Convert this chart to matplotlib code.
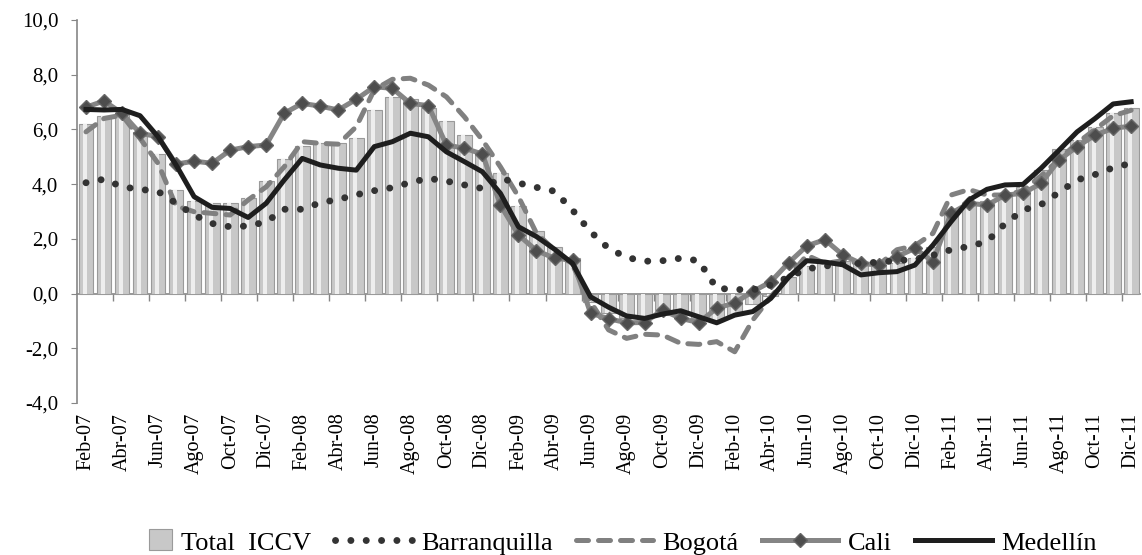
import matplotlib
matplotlib.use("Agg")
import matplotlib.pyplot as plt
import numpy as np
from matplotlib.ticker import FuncFormatter
from matplotlib.legend_handler import HandlerPatch
from matplotlib.patches import Rectangle

plt.rcParams["font.family"] = ["Liberation Serif", "DejaVu Serif"]

month_names = ["Ene", "Feb", "Mar", "Abr", "May", "Jun", "Jul", "Ago", "Sep", "Oct", "Nov", "Dic"]
months = []
for yr in range(7, 12):
    for mi, mn in enumerate(month_names):
        if yr == 7 and mi == 0:
            continue
        months.append(f"{mn}-{yr:02d}")

total_iccv = [6.2, 6.5, 6.6, 5.9, 5.1, 3.8, 3.4, 3.3, 3.3, 3.5,
              4.1, 4.9, 5.4, 5.5, 5.5, 5.7, 6.7, 7.2, 7.1, 6.8,
              6.3, 5.8, 5.2, 4.4, 3.2, 2.3, 1.7, 1.3, -0.3, -0.7,
              -0.9, -0.9, -0.8, -0.8, -0.9, -1.0, -0.8, -0.4, -0.1, 0.6,
              1.0, 1.2, 1.2, 1.1, 1.0, 1.1, 1.3, 1.7, 3.0, 3.3,
              3.4, 3.6, 3.9, 4.5, 5.3, 5.6, 6.1, 6.6, 6.8]

barranquilla = [4.05, 4.18, 3.90, 3.81, 3.73, 3.30, 2.87, 2.56, 2.44, 2.47,
                2.62, 3.08, 3.08, 3.32, 3.44, 3.61, 3.76, 3.87, 4.06, 4.21,
                4.11, 3.97, 3.84, 4.21, 4.04, 3.88, 3.74, 3.05, 2.26, 1.65,
                1.32, 1.18, 1.20, 1.29, 1.20, 0.19, 0.15, 0.13, 0.31, 0.6,
                0.9, 1.0, 1.1, 1.1, 1.15, 1.2, 1.25, 1.4, 1.6, 1.72,
                1.9, 2.55, 3.05, 3.25, 3.7, 4.15, 4.35, 4.6, 4.76]

bogota = [5.91, 6.40, 6.52, 5.67, 4.76, 3.20, 2.99, 2.93, 2.87, 3.42,
          3.90, 4.63, 5.55, 5.49, 5.46, 6.10, 7.45, 7.83, 7.87, 7.62,
          7.19, 6.46, 5.61, 4.63, 3.54, 2.20, 1.59, 1.04, -0.3, -1.33,
          -1.64, -1.49, -1.52, -1.82, -1.86, -1.76, -2.13, -0.97, -0.12, 0.61,
          1.4, 1.1, 1.2, 1.1, 1.05, 1.6, 1.75, 2.2, 3.6, 3.8,
          3.6, 3.6, 3.75, 4.3, 4.9, 5.5, 6.0, 6.5, 6.7]

cali = [6.81, 7.04, 6.59, 5.86, 5.73, 4.73, 4.84, 4.76, 5.24, 5.37,
        5.43, 6.59, 6.95, 6.85, 6.71, 7.10, 7.56, 7.50, 6.95, 6.87,
        5.43, 5.31, 5.10, 3.23, 2.14, 1.57, 1.29, 1.22, -0.72, -0.92,
        -1.07, -1.06, -0.60, -0.91, -1.06, -0.54, -0.34, 0.07, 0.43, 1.13,
        1.74, 1.97, 1.41, 1.10, 1.04, 1.35, 1.65, 1.16, 2.93, 3.30,
        3.23, 3.60, 3.66, 4.03, 4.88, 5.37, 5.79, 6.04, 6.12]

medellin = [6.73, 6.71, 6.73, 6.50, 5.73, 4.70, 3.54, 3.15, 3.11, 2.78,
            3.30, 4.15, 4.94, 4.70, 4.58, 4.51, 5.37, 5.55, 5.86, 5.73,
            5.18, 4.82, 4.45, 3.66, 2.44, 2.08, 1.62, 1.10, -0.12, -0.5,
            -0.82, -0.91, -0.75, -0.63, -0.85, -1.07, -0.79, -0.66, -0.18, 0.6,
            1.2, 1.15, 1.05, 0.68, 0.76, 0.80, 1.04, 1.77, 2.62, 3.42,
            3.81, 3.97, 3.99, 4.58, 5.24, 5.91, 6.40, 6.93, 7.01]

x = np.arange(len(months))

fig = plt.figure(figsize=(11.42, 5.55), dpi=100)
ax = fig.add_axes([0.0674, 0.274, 0.931, 0.690])

# bars with a lighter stripe to mimic the shaded columns
bars = ax.bar(x, total_iccv, width=0.82, color="#c8c8c8", edgecolor="#9a9a9a", linewidth=0.8,
              label="Total  ICCV", zorder=2)
ax.bar(x - 0.08, total_iccv, width=0.22, color="#eeeeee", linewidth=0, zorder=2)

l_baq, = ax.plot(x, barranquilla, color="#333333", lw=5.0, linestyle=(0, (0.01, 2.2)),
                 dash_capstyle="round", label="Barranquilla", zorder=4)
l_bog, = ax.plot(x, bogota, color="#808080", lw=3.6, linestyle=(0, (2.4, 2.0)),
                 dash_capstyle="round", label="Bogotá", zorder=3)
l_cal, = ax.plot(x, cali, color="#858585", lw=3.6, marker="D", markersize=7,
                 markerfacecolor="#4d4d4d", markeredgecolor="#666666", label="Cali", zorder=3)
l_med, = ax.plot(x, medellin, color="#1e1e1e", lw=3.6, label="Medellín", zorder=5)

ax.set_xlim(-0.5, len(months) - 0.5)
ax.set_ylim(-4, 10)
ax.set_yticks(np.arange(-4, 10.1, 2))
ax.yaxis.set_major_formatter(FuncFormatter(lambda v, p: f"{v:.1f}".replace(".", ",")))

ax.set_xticks(x[::2])
ax.set_xticklabels(months[::2], rotation=90)
ax.tick_params(axis="x", length=0, pad=7, labelsize=14.5)
ax.tick_params(axis="y", length=4.5, color="#868686", labelsize=15, direction="out", pad=9)

for s in ["top", "right", "bottom"]:
    ax.spines[s].set_visible(False)
ax.spines["left"].set_color("#868686")
ax.spines["left"].set_linewidth(1.2)

# zero line with boundary ticks
sec = ax.secondary_xaxis(4 / 14)
sec.spines["bottom"].set_color("#868686")
sec.spines["bottom"].set_linewidth(1.2)
sec.set_xticks(x[::2] + 1.5)
sec.set_xticklabels([])
sec.tick_params(length=5, color="#868686", width=1.0)


def small_patch(legend, orig_handle, xdescent, ydescent, width, height, fontsize):
    w = width * 0.3
    return Rectangle((width - w - xdescent, -ydescent), w, height * 1.1)


bar_handle = bars.patches[0]
leg = fig.legend([bar_handle, l_baq, l_bog, l_cal, l_med],
                 ["Total  ICCV", "Barranquilla", "Bogotá", "Cali", "Medellín"],
                 loc="lower center", bbox_to_anchor=(0.522, -0.042), ncol=5, frameon=False,
                 fontsize=19, handlelength=2.9, columnspacing=0.9, handletextpad=0.35,
                 handler_map={bar_handle: HandlerPatch(patch_func=small_patch)})

fig.savefig("out.png", dpi=100)
